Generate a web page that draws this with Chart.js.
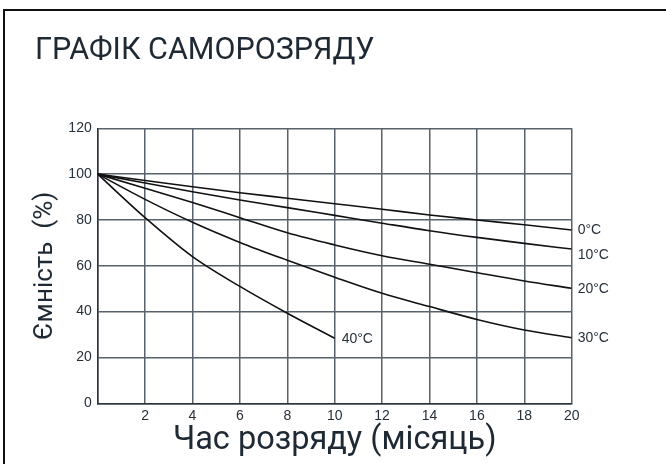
<!DOCTYPE html>
<html>
<head>
<meta charset="utf-8">
<script src="https://cdn.jsdelivr.net/npm/chart.js@4/dist/chart.umd.min.js"></script>
<style>
  html, body { margin: 0; padding: 0; background: #ffffff; overflow: hidden; }
  #wrap { position: absolute; left: 0; top: 0; width: 666px; height: 464px; }
  #frame { position: absolute; left: 3px; top: 9px; width: 700px; height: 500px; border: 2px solid #111; box-sizing: border-box; pointer-events: none; }
  canvas { position: absolute; left: 0; top: 0; }
</style>
</head>
<body>
<div id="wrap">
  <canvas id="c" width="666" height="464"></canvas>
  <div id="frame"></div>
</div>
<script>
// ---- data ----
const chartTitle = 'ГРАФІК САМОРОЗРЯДУ';
const xAxisTitle = 'Час розряду (місяць)';
const yAxisTitle = 'Ємність  (%)';
const months = [0, 2, 4, 6, 8, 10, 12, 14, 16, 18, 20];
const months40 = [0, 2, 4, 6, 8, 10];
const seriesNames = ['0°C', '10°C', '20°C', '30°C', '40°C'];
const cap0 = [100, 97.2, 94.5, 91.9, 89.5, 87.1, 84.7, 82.2, 80.0, 77.9, 75.6];
const cap10 = [100, 96.1, 92.3, 88.7, 85.4, 82.0, 78.6, 75.3, 72.4, 69.8, 67.3];
const cap20 = [100, 93.8, 87.6, 81.0, 74.4, 69.1, 64.4, 60.7, 57.0, 53.4, 50.2];
const cap30 = [100, 89.0, 79.0, 70.2, 62.4, 55.0, 48.0, 42.2, 36.6, 32.0, 28.6];
const cap40 = [100, 81.0, 64.0, 51.0, 39.3, 28.4];
const xTicks = [0, 2, 4, 6, 8, 10, 12, 14, 16, 18, 20];
const yTicks = [0, 20, 40, 60, 80, 100, 120];

// ---- styles ----
const textColor = '#26303a';
const gridColor = '#59626b';
const lineColor = '#111111';
const tickFont = { family: "'Liberation Sans', Arial, sans-serif", size: 14 };
const xTitleFont = { family: "Roboto, 'Noto Sans', sans-serif", size: 32.5 };
const yTitleFont = { family: "Roboto, 'Noto Sans', sans-serif", size: 26 };
const labelStyle = [
  { dx: 6, dy: 0 },   // 0°C
  { dx: 6, dy: 6 },   // 10°C
  { dx: 6, dy: 1 },   // 20°C
  { dx: 6, dy: 0 },   // 30°C
  { dx: 7, dy: 1 }    // 40°C
];

function pts(xs, ys) { return xs.map((x, i) => ({ x: x, y: ys[i] })); }
const seriesData = [pts(months, cap0), pts(months, cap10), pts(months, cap20), pts(months, cap30), pts(months40, cap40)];

const datasets = seriesData.map((d, i) => ({
  label: seriesNames[i],
  data: d,
  borderColor: lineColor,
  borderWidth: 1.6,
  pointRadius: 0,
  fill: false,
  cubicInterpolationMode: 'monotone'
}));

const decorPlugin = {
  id: 'decor',
  afterDatasetsDraw(chart) {
    const ctx = chart.ctx;
    const xs = chart.scales.x, ys = chart.scales.y;
    ctx.save();
    // curve end labels
    ctx.font = "14px 'Liberation Sans', Arial, sans-serif";
    ctx.fillStyle = textColor;
    ctx.textAlign = 'left';
    ctx.textBaseline = 'middle';
    chart.data.datasets.forEach((ds, i) => {
      const last = ds.data[ds.data.length - 1];
      const px = xs.getPixelForValue(last.x) + labelStyle[i].dx;
      const py = ys.getPixelForValue(last.y) + labelStyle[i].dy;
      ctx.fillText(ds.label, px, py);
    });
    // main title
    ctx.font = "30.5px Roboto, 'Noto Sans', sans-serif";
    ctx.fillStyle = '#1e2933';
    ctx.textBaseline = 'alphabetic';
    ctx.fillText(chartTitle, 35, 59);
    ctx.restore();
  }
};

new Chart(document.getElementById('c'), {
  type: 'line',
  data: { datasets: datasets },
  options: {
    responsive: false,
    animation: false,
    devicePixelRatio: 1,
    layout: { padding: { left: 10, top: 128.3, right: 94.3, bottom: 0 } },
    plugins: { legend: { display: false }, title: { display: false }, tooltip: { enabled: false } },
    scales: {
      x: {
        type: 'linear',
        min: 0, max: 20,
        afterBuildTicks: (s) => { s.ticks = xTicks.map(v => ({ value: v })); },
        afterFit: (s) => { s.height = 464 - 403.3; },
        ticks: {
          font: tickFont, color: textColor, padding: 4,
          callback: (v) => (v === 0 ? '' : String(v)),
          maxRotation: 0, autoSkip: false
        },
        grid: { color: gridColor, lineWidth: 1.5, drawTicks: false },
        border: { color: '#2a323a', width: 1.5 },
        title: { display: true, text: xAxisTitle, font: xTitleFont, color: '#1e2933', padding: { top: 0, bottom: 3.5 } }
      },
      y: {
        min: 0, max: 120,
        afterBuildTicks: (s) => { s.ticks = yTicks.map(v => ({ value: v })); },
        afterFit: (s) => { s.width = 97.7 - 10; },
        ticks: { font: tickFont, color: textColor, padding: 6 },
        grid: { color: gridColor, lineWidth: 1.5, drawTicks: false },
        border: { color: '#2a323a', width: 1.5 },
        title: { display: true, text: yAxisTitle, font: yTitleFont, color: '#1e2933', padding: { top: 19.4, bottom: 0 } }
      }
    }
  },
  plugins: [decorPlugin]
});
</script>
</body>
</html>
